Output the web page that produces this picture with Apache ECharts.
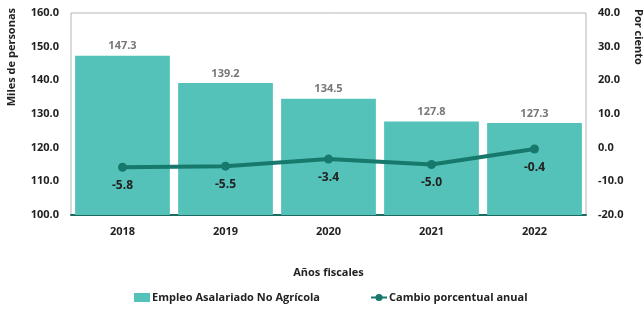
<!DOCTYPE html>
<html>
<head>
<meta charset="utf-8">
<script src="https://cdn.jsdelivr.net/npm/echarts@6/dist/echarts.min.js"></script>
<style>
  html, body { margin: 0; padding: 0; background: #fff; }
  #chart { width: 644px; height: 310px; }
</style>
</head>
<body>
<div id="chart"></div>
<script>
  // datos del gráfico
  const years = ['2018', '2019', '2020', '2021', '2022']
  const empleo = [147.3, 139.2, 134.5, 127.8, 127.3]
  const cambio = [-5.8, -5.5, -3.4, -5.0, -0.4]

  const font = 'Open Sans'
  const chart = echarts.init(document.getElementById('chart'))

  const option = {
    textStyle: { fontFamily: font },
    grid: {
      left: 71,
      right: 58,
      top: 13,
      bottom: 95,
      show: true,
      borderColor: '#b5b5b5',
      borderWidth: 1
    },
    legend: {
      left: 129,
      bottom: 2,
      itemGap: 50,
      itemWidth: 16,
      itemHeight: 9,
      textStyle: {
        fontFamily: font,
        fontWeight: 'bold',
        fontSize: 11,
        color: '#222',
        padding: [0, 0, 0, -3]
      },
      data: [
        { name: 'Empleo Asalariado No Agrícola', icon: 'rect' },
        { name: 'Cambio porcentual anual' }
      ]
    },
    xAxis: {
      type: 'category',
      data: years,
      name: 'Años fiscales',
      nameLocation: 'middle',
      nameGap: 52,
      nameTextStyle: { fontFamily: font, fontWeight: 'bold', fontSize: 11, color: '#222' },
      axisLine: { onZero: false, lineStyle: { color: '#1b6b60', width: 2 } },
      axisTick: { show: false },
      axisLabel: { margin: 11, fontWeight: 'bold', fontSize: 11, color: '#222' }
    },
    yAxis: [{
      type: 'value',
      min: 100,
      max: 160,
      interval: 10,
      splitLine: { show: false },
      axisLine: { show: false },
      axisLabel: {
        margin: 12,
        fontWeight: 'bold',
        fontSize: 11,
        color: '#222',
        formatter: v => v.toFixed(1)
      }
    }, {
      type: 'value',
      min: -20,
      max: 40,
      interval: 10,
      splitLine: { show: false },
      axisLine: { show: false },
      axisLabel: {
        margin: 12,
        fontWeight: 'bold',
        fontSize: 11,
        color: '#222',
        formatter: v => v.toFixed(1)
      }
    }],
    graphic: [{
      type: 'text',
      left: 6,
      top: 8,
      rotation: Math.PI / 2,
      style: { text: 'Miles de personas', font: 'bold 11px "Open Sans"', fill: '#222' }
    }, {
      type: 'text',
      right: 0,
      top: 9,
      rotation: -Math.PI / 2,
      style: { text: 'Por ciento', font: 'bold 11px "Open Sans"', fill: '#222' }
    }],
    series: [{
      name: 'Empleo Asalariado No Agrícola',
      type: 'bar',
      data: empleo,
      barCategoryGap: '8%',
      itemStyle: { color: '#54c2b8' },
      label: {
        show: true,
        position: 'top',
        distance: 4,
        fontWeight: 'bold',
        fontSize: 11,
        color: '#777',
        formatter: p => p.value.toFixed(1)
      }
    }, {
      name: 'Cambio porcentual anual',
      type: 'line',
      yAxisIndex: 1,
      data: cambio,
      symbol: 'circle',
      symbolSize: 9,
      lineStyle: { color: '#17786c', width: 4 },
      itemStyle: { color: '#17786c' },
      label: {
        show: true,
        position: 'bottom',
        distance: 8,
        fontWeight: 'bold',
        fontSize: 12,
        color: '#222',
        formatter: p => p.value.toFixed(1)
      }
    }]
  }

  chart.setOption(option)
</script>
</body>
</html>
